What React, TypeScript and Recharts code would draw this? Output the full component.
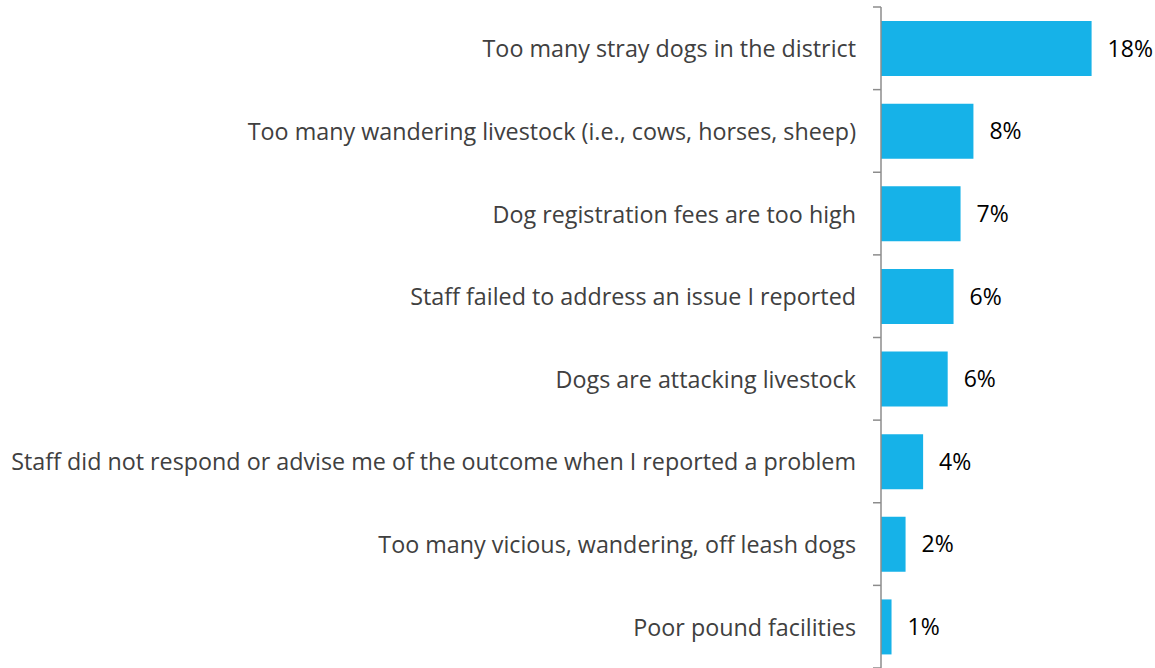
import { BarChart, Bar, XAxis, YAxis, LabelList } from "recharts";

const categories = [
  "Too many stray dogs in the district",
  "Too many wandering livestock (i.e., cows, horses, sheep)",
  "Dog registration fees are too high",
  "Staff failed to address an issue I reported",
  "Dogs are attacking livestock",
  "Staff did not respond or advise me of the outcome when I reported a problem",
  "Too many vicious, wandering, off leash dogs",
  "Poor pound facilities",
];

// share of respondents (%)
const shares = [18.0, 7.9, 6.8, 6.2, 5.7, 3.6, 2.1, 0.9];

const data = categories.map((name, i) => ({ name, value: shares[i] }));

const WIDTH = 1155;
const HEIGHT = 668;
const MARGIN = { top: 7, right: 40, bottom: 0, left: 0 };
const AXIS_W = 881;
const BAND = (HEIGHT - MARGIN.top - MARGIN.bottom) / categories.length;
const FONT = "'Open Sans', sans-serif";

const CategoryTick = ({ x, y, payload, index }: any) => {
  const isLast = index === categories.length - 1;
  return (
    <g>
      <line x1={x - 8} x2={x} y1={y - BAND / 2} y2={y - BAND / 2} stroke="#8c8c8c" strokeWidth={1.5} />
      {isLast && (
        <line x1={x - 8} x2={x} y1={y + BAND / 2} y2={y + BAND / 2} stroke="#8c8c8c" strokeWidth={1.5} />
      )}
      <text
        x={x - 25}
        y={y}
        textAnchor="end"
        dominantBaseline="central"
        fill="#404040"
        fontSize={23.3}
        fontFamily={FONT}
      >
        {payload.value}
      </text>
    </g>
  );
};

export default function App() {
  return (
    <div style={{ position: "fixed", left: 0, top: 0, background: "#fff" }}>
      <BarChart
        width={WIDTH}
        height={HEIGHT}
        data={data}
        layout="vertical"
        margin={MARGIN}
        barCategoryGap="17%"
      >
        <XAxis type="number" domain={[0, 20]} hide />
        <YAxis
          type="category"
          dataKey="name"
          width={AXIS_W}
          tickSize={0}
          tickMargin={0}
          tick={<CategoryTick />}
          axisLine={{ stroke: "#8c8c8c", strokeWidth: 1.5 }}
          interval={0}
        />
        <Bar dataKey="value" fill="#16b2e8" isAnimationActive={false}>
          <LabelList
            dataKey="value"
            position="right"
            offset={16}
            fill="#000"
            fontSize={23}
            fontFamily={FONT}
            formatter={(v: any) => `${Math.round(Number(v))}%`}
          />
        </Bar>
      </BarChart>
    </div>
  );
}
